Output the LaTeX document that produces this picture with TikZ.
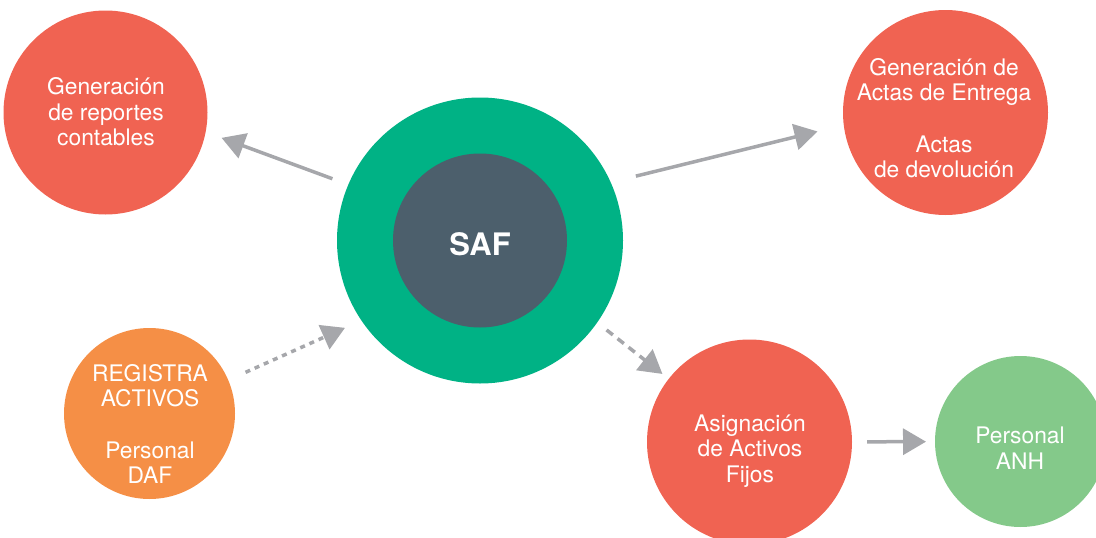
\documentclass[tikz,border=0pt]{standalone}
\usepackage{fontspec}
\setmainfont{TeX Gyre Heros}
\usetikzlibrary{arrows.meta}
\definecolor{SafRed}{RGB}{240,99,82}
\definecolor{SafOrange}{RGB}{245,143,70}
\definecolor{SafGreen}{RGB}{0,178,133}
\definecolor{SafSlate}{RGB}{76,95,108}
\definecolor{SafLeaf}{RGB}{132,201,138}
\definecolor{SafGray}{RGB}{166,167,171}

\begin{document}
\begin{tikzpicture}[x=1pt, y=-1pt,
  bubble/.style={circle, inner sep=0pt, outer sep=0pt, draw=none},
  bubbletext/.style={text=white, align=center, inner sep=0pt, font=\fontsize{22.8}{25.5}\selectfont},
  link/.style={draw=SafGray, line width=3.5pt, -{Triangle[length=23pt, width=26pt]}}]
  \useasboundingbox (0,0) rectangle (1096,538);
  \clip (0,0) rectangle (1096,538);

  % Central system
  \node[bubble, fill=SafGreen, minimum size=286pt] (saf) at (480,240.5) {};
  \node[bubble, fill=SafSlate, minimum size=174pt] (safcore) at (saf) {};
  \node[text=white, inner sep=0pt, font=\fontsize{31}{31}\selectfont\bfseries] (saftext) at (480,244.5) {SAF};

  % Outer bubbles
  \node[bubble, fill=SafRed, minimum size=204pt] (rep) at (105.5,112.5) {};
  \node[bubble, fill=SafRed, minimum size=205pt] (act) at (945.5,112.5) {};
  \node[bubble, fill=SafOrange, minimum size=171pt] (reg) at (149.5,413.5) {};
  \node[bubble, fill=SafRed, minimum size=205pt] (asig) at (749.5,442) {};
  \node[bubble, fill=SafLeaf, minimum size=171pt] (anh) at (1020.5,441.5) {};

  % Texts
  \node[bubbletext] (reptext) at (106,112) {Generación\\de reportes\\contables};
  \node[bubbletext] (acttext) at (944,118) {Generación de\\Actas de Entrega\\[26pt]Actas\\de devolución};
  \node[bubbletext] (regtext) at (150,424) {REGISTRA\\ACTIVOS\\[26pt]Personal\\DAF};
  \node[bubbletext] (asigtext) at (750,451) {Asignación\\de Activos\\Fijos};
  \node[bubbletext] (anhtext) at (1020,448) {Personal\\ANH};

  % Connectors
  \draw[link, shorten <=17pt, shorten >=17pt] (saf.157) -- (rep.-11);
  \draw[link, shorten <=26pt, shorten >=27pt] (saf.24) -- (act.-173);
  \draw[link, dash pattern=on 5pt off 5pt, shorten <=19pt, shorten >=18pt] (reg.23) -- (saf.-146);
  \draw[link, dash pattern=on 8pt off 6pt, shorten <=12pt, shorten >=8pt] (saf.-35) -- (asig.142);
  \draw[link, shorten <=15pt, shorten >=9pt] (asig) -- (anh);
\end{tikzpicture}
\end{document}
